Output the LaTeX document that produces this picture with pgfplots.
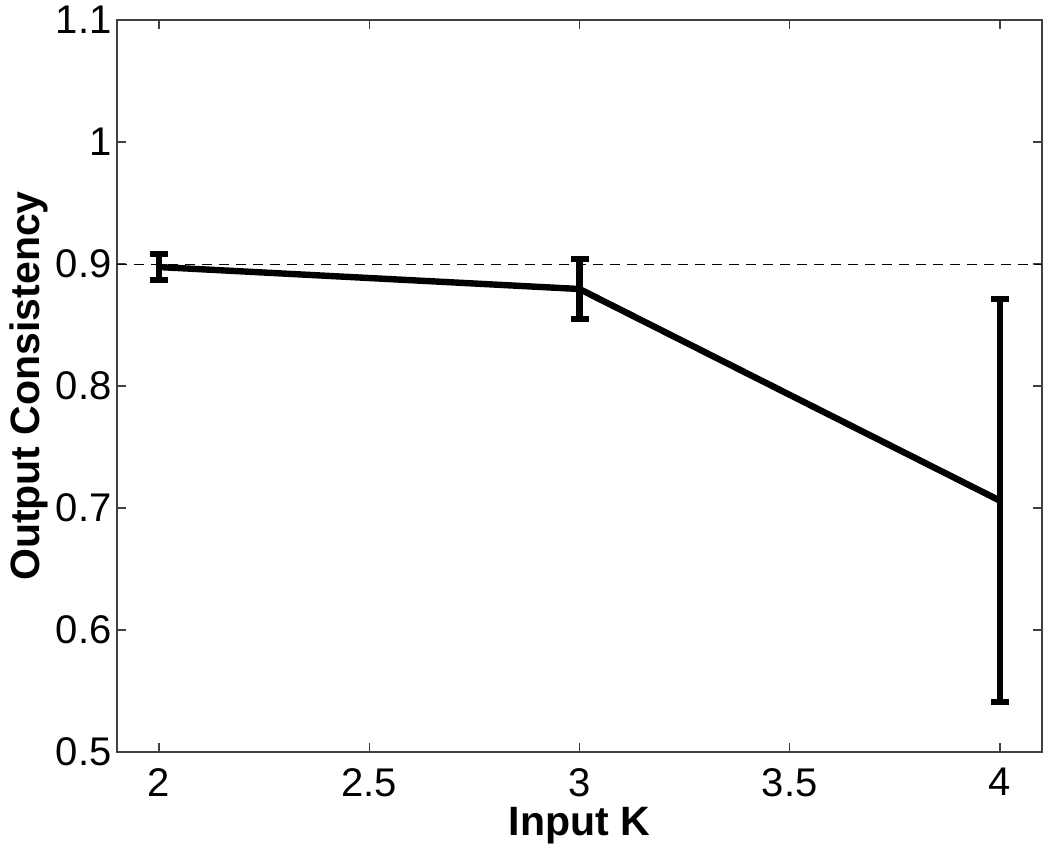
\documentclass[border=0pt]{standalone}
\usepackage{pgfplots}
\pgfplotsset{compat=1.18}
\usepackage{fontspec}
\setmainfont{Liberation Sans}
\begin{document}
\begin{tikzpicture}
\useasboundingbox (-58.5pt,-49.5pt) rectangle (466.5pt,376pt);
\begin{axis}[
  at={(0,0)}, anchor=south west,
  scale only axis, width=462.5pt, height=366pt,
  xmin=1.9, xmax=4.1, ymin=0.5, ymax=1.1,
  xtick={2,2.5,3,3.5,4}, ytick={0.5,0.6,0.7,0.8,0.9,1,1.1},
  tick align=inside, major tick length=4.5pt,
  xtick pos=both, ytick pos=both,
  axis line style={line width=0.75pt, black!75},
  every tick/.style={line width=0.6pt, black!75},
  /pgf/number format/assume math mode=true,
  tick label style={font=\fontsize{20}{24}\selectfont},
  xticklabel style={anchor=north, inner sep=0pt, yshift=-8pt},
  yticklabel style={anchor=east, inner sep=0pt, xshift=-2.5pt},
  xlabel={Input K}, ylabel={Output Consistency},
  label style={font=\fontsize{20.5}{24}\selectfont\bfseries},
  xlabel style={at={(axis description cs:0.5,-0.1134)}, anchor=base, inner sep=0pt},
  ylabel style={at={(axis description cs:-0.1168,0.5)}, anchor=north, inner sep=0pt},
]
\addplot[black, line width=0.5pt, dash pattern=on 5pt off 3.5pt, forget plot] coordinates {(1.9,0.9) (4.1,0.9)};
\addplot[black, line width=3.2pt, mark=none,
  error bars/.cd, y dir=both, y explicit,
  error bar style={line width=3.2pt, black},
  error mark options={rotate=90, mark size=4.5pt, line width=3pt, black}]
  coordinates {
  (2,0.8975) +- (0,0.0105)
  (3,0.8795) +- (0,0.0245)
  (4,0.706) +- (0,0.165)
};
\end{axis}
\end{tikzpicture}
\end{document}
